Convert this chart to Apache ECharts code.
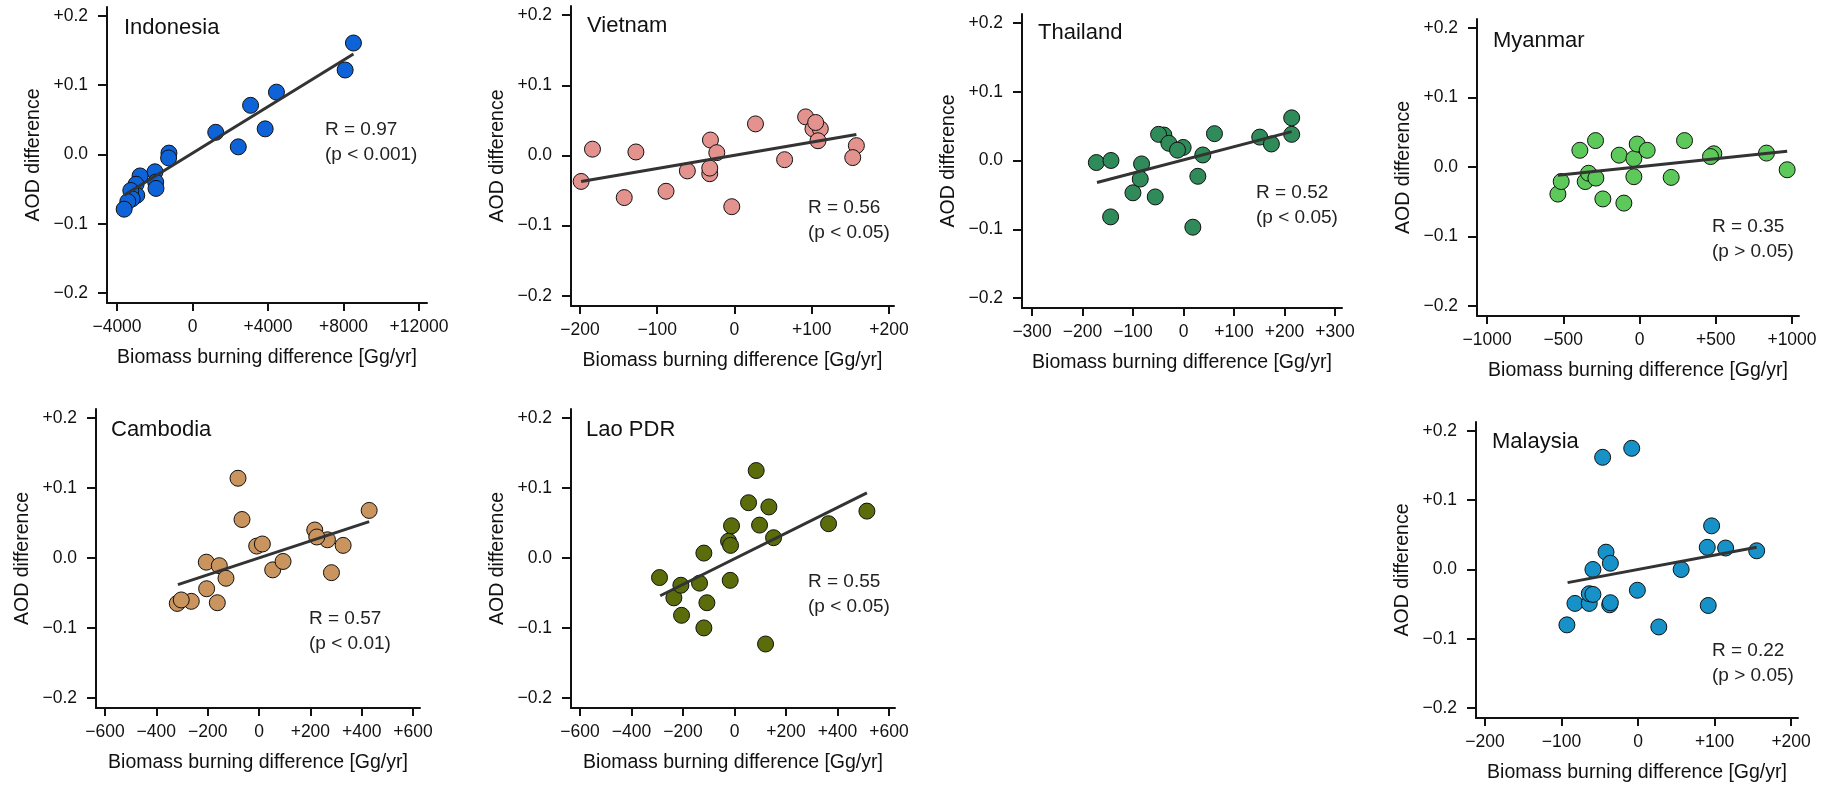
<!DOCTYPE html>
<html>
<head>
<meta charset="utf-8">
<script src="https://cdn.jsdelivr.net/npm/echarts@6/dist/echarts.min.js"></script>
<style>
  html, body { margin: 0; padding: 0; background: #fff; }
  #chart { width: 1827px; height: 787px; }
</style>
</head>
<body>
<div id="chart"></div>
<script>
// panel labels and correlation stats
var countries = ['Indonesia', 'Vietnam', 'Thailand', 'Myanmar', 'Cambodia', 'Lao PDR', 'Malaysia'];
var rText = ['R = 0.97', 'R = 0.56', 'R = 0.52', 'R = 0.35', 'R = 0.57', 'R = 0.55', 'R = 0.22'];
var pText = ['(p < 0.001)', '(p < 0.05)', '(p < 0.05)', '(p > 0.05)', '(p < 0.01)', '(p < 0.05)', '(p > 0.05)'];

// tick values
var yTicks = [-0.2, -0.1, 0, 0.1, 0.2];
var xTicksIndonesia = [-4000, 0, 4000, 8000, 12000];
var xTicksVietnam = [-200, -100, 0, 100, 200];
var xTicksThailand = [-300, -200, -100, 0, 100, 200, 300];
var xTicksMyanmar = [-1000, -500, 0, 500, 1000];
var xTicksCambodia = [-600, -400, -200, 0, 200, 400, 600];
var xTicksLao = [-600, -400, -200, 0, 200, 400, 600];
var xTicksMalaysia = [-200, -100, 0, 100, 200];

// points: [biomass burning difference, AOD difference]
var indonesia = [
  [8527, 0.161], [8087, 0.122], [4448, 0.090], [3077, 0.071], [3850, 0.037],
  [1231, 0.032], [2426, 0.011], [-1248, 0.002], [-1266, -0.005], [-1987, -0.025],
  [-1951, -0.040], [-1934, -0.049], [-2778, -0.031], [-2989, -0.043], [-2954, -0.059],
  [-3270, -0.052], [-3200, -0.064], [-3428, -0.068], [-3621, -0.079]
];
var vietnam = [
  [-198.5, -0.037], [-183.8, 0.009], [-142.7, -0.060], [-127.6, 0.005], [-88.6, -0.051],
  [-61.0, -0.022], [-31.1, 0.022], [-32.0, -0.026], [-32.0, -0.018], [-22.9, 0.004],
  [-3.5, -0.073], [27.2, 0.045], [64.9, -0.006], [92.1, 0.055], [101.6, 0.038],
  [111.1, 0.038], [105.1, 0.047], [108.1, 0.021], [157.8, 0.014], [153.1, -0.003]
];
var thailand = [
  [-172.7, -0.003], [-143.7, 0.000], [-144.4, -0.082], [-100.2, -0.047], [-83.1, -0.005],
  [-85.7, -0.027], [-56.0, -0.053], [-38.9, 0.037], [-49.4, 0.038], [-29.0, 0.025],
  [-0.7, 0.019], [-11.9, 0.015], [18.5, -0.097], [28.4, -0.023], [38.2, 0.008],
  [61.3, 0.039], [151.0, 0.034], [174.1, 0.024], [214.3, 0.062], [214.3, 0.038]
];
var myanmar = [
  [-535.5, -0.039], [-513.7, -0.021], [-391.3, 0.024], [-356.3, -0.021], [-334.4, -0.009],
  [-288.5, 0.038], [-286.3, -0.016], [-240.4, -0.046], [-133.3, 0.017], [-102.7, -0.052],
  [-37.2, 0.012], [-37.2, -0.014], [-15.3, 0.033], [50.3, 0.024], [207.7, -0.015],
  [295.1, 0.038], [487.4, 0.019], [465.6, 0.015], [832.8, 0.020], [968.3, -0.004]
];
var cambodia = [
  [-318.5, -0.065], [-263.9, -0.062], [-302.9, -0.060], [-205.4, -0.006], [-204.1, -0.044],
  [-162.5, -0.064], [-154.7, -0.011], [-128.7, -0.029], [-81.9, 0.114], [-66.3, 0.055],
  [-9.1, 0.017], [13.0, 0.020], [53.3, -0.017], [93.6, -0.005], [217.1, 0.040],
  [266.5, 0.026], [224.9, 0.030], [282.1, -0.021], [327.6, 0.018], [429.0, 0.068]
];
var lao = [
  [-291.3, -0.028], [-235.6, -0.057], [-208.4, -0.039], [-205.8, -0.082], [-135.9, -0.036],
  [-119.1, 0.007], [-119.1, -0.100], [-107.4, -0.064], [-23.3, 0.024], [-15.5, 0.018],
  [-11.7, 0.046], [-16.8, -0.032], [54.4, 0.079], [84.1, 0.125], [97.1, 0.047],
  [133.3, 0.073], [151.5, 0.029], [120.4, -0.123], [365.0, 0.049], [513.9, 0.067]
];
var malaysia = [
  [-93.0, -0.080], [-82.5, -0.049], [-63.8, -0.049], [-63.8, -0.035], [-59.0, -0.036],
  [-59.0, 0.000], [-46.3, 0.162], [-41.9, 0.025], [-36.2, 0.009], [-37.1, -0.051],
  [-36.2, -0.048], [-8.3, 0.175], [-0.9, -0.030], [27.1, -0.083], [56.3, 0.000],
  [90.4, 0.032], [91.7, -0.052], [96.1, 0.063], [114.4, 0.031], [155.0, 0.027]
];

// regression line end points
var fitIndonesia = [[-3621, -0.059], [8527, 0.145]];
var fitVietnam = [[-198.5, -0.037], [157.8, 0.030]];
var fitThailand = [[-171.4, -0.032], [214.3, 0.042]];
var fitMyanmar = [[-535.5, -0.012], [968.3, 0.0225]];
var fitCambodia = [[-315.9, -0.038], [429.0, 0.052]];
var fitLao = [[-288.7, -0.054], [513.9, 0.093]];
var fitMalaysia = [[-92.1, -0.019], [155.0, 0.032]];

var points = [indonesia, vietnam, thailand, myanmar, cambodia, lao, malaysia];
var fits = [fitIndonesia, fitVietnam, fitThailand, fitMyanmar, fitCambodia, fitLao, fitMalaysia];
var xTicks = [xTicksIndonesia, xTicksVietnam, xTicksThailand, xTicksMyanmar, xTicksCambodia, xTicksLao, xTicksMalaysia];
var colors = ['#0f63d8', '#e3928d', '#2f8b59', '#5cc95a', '#c9945e', '#5b6d0b', '#1692c9'];

// layout: grid box in px, x range, title and stats positions
var layout = [
  { g: [107, 7, 320, 296],  x: [-4530, 12424], t: [124, 17],   s: [325, 117] },
  { g: [571, 6, 323, 300],  x: [-211.6, 206.5], t: [587, 15],  s: [808, 195] },
  { g: [1022, 14, 320, 294], x: [-320, 314],    t: [1038, 22],  s: [1256, 180] },
  { g: [1477, 19, 322, 297], x: [-1066, 1046],  t: [1493, 30],  s: [1712, 214] },
  { g: [96, 409, 324, 299],  x: [-635, 627],    t: [111, 419],  s: [309, 606] },
  { g: [571, 409, 324, 299], x: [-635, 623],    t: [586, 419],  s: [808, 569] },
  { g: [1476, 422, 322, 296], x: [-211.8, 209], t: [1492, 431], s: [1712, 638] }
];

var FONT = '"Liberation Sans", Arial, Helvetica, sans-serif';
var axisColor = '#111';

function signed(v, digits) {
  if (Math.abs(v) < 1e-9) return digits ? (0).toFixed(digits) : '0';
  var s = digits ? Math.abs(v).toFixed(digits) : String(Math.abs(v));
  return (v > 0 ? '+' : '\u2212') + s;
}

var grid = [], xAxis = [], yAxis = [], series = [], title = [];
layout.forEach(function (L, i) {
  grid.push({ left: L.g[0], top: L.g[1], width: L.g[2], height: L.g[3] });
  xAxis.push({
    type: 'value', gridIndex: i, min: L.x[0], max: L.x[1],
    name: 'Biomass burning difference [Gg/yr]', nameLocation: 'middle', nameGap: 45,
    nameTextStyle: { fontFamily: FONT, fontSize: 19.5, color: '#111' },
    axisLine: { show: true, onZero: false, lineStyle: { color: axisColor, width: 2 } },
    axisTick: { show: true, length: 8, customValues: xTicks[i], lineStyle: { color: axisColor, width: 2 } },
    axisLabel: { customValues: xTicks[i], margin: 15, fontFamily: FONT, fontSize: 17.5, color: '#111',
      formatter: function (v) { return signed(v, 0); } },
    splitLine: { show: false }
  });
  yAxis.push({
    type: 'value', gridIndex: i, min: -0.2145, max: 0.213,
    name: 'AOD difference', nameLocation: 'middle', nameGap: 63,
    nameTextStyle: { fontFamily: FONT, fontSize: 19.5, color: '#111' },
    axisLine: { show: true, onZero: false, lineStyle: { color: axisColor, width: 2 } },
    axisTick: { show: true, length: 9, customValues: yTicks, lineStyle: { color: axisColor, width: 2 } },
    axisLabel: { customValues: yTicks, margin: 19, fontFamily: FONT, fontSize: 17.5, color: '#111',
      formatter: function (v) { return signed(v, 1); } },
    splitLine: { show: false }
  });
  series.push({
    type: 'line', xAxisIndex: i, yAxisIndex: i, data: fits[i], symbol: 'none', z: 3,
    lineStyle: { color: '#333', width: 3 }
  });
  series.push({
    type: 'scatter', xAxisIndex: i, yAxisIndex: i, data: points[i], symbolSize: 16, z: 2,
    itemStyle: { color: colors[i], borderColor: '#111', borderWidth: 1, opacity: 1 }
  });
  title.push({
    text: countries[i], left: L.t[0], top: L.t[1], padding: 0,
    textStyle: { fontFamily: FONT, fontSize: 22, fontWeight: 'normal', color: '#111', lineHeight: 22 }
  });
  title.push({
    text: rText[i] + '\n' + pText[i], left: L.s[0], top: L.s[1], padding: 0,
    textStyle: { fontFamily: FONT, fontSize: 19, fontWeight: 'normal', color: '#222', lineHeight: 25 }
  });
});

var chart = echarts.init(document.getElementById('chart'), null, { renderer: 'canvas' });
chart.setOption({
  animation: false,
  backgroundColor: '#fff',
  title: title,
  grid: grid,
  xAxis: xAxis,
  yAxis: yAxis,
  series: series
});
</script>
</body>
</html>
